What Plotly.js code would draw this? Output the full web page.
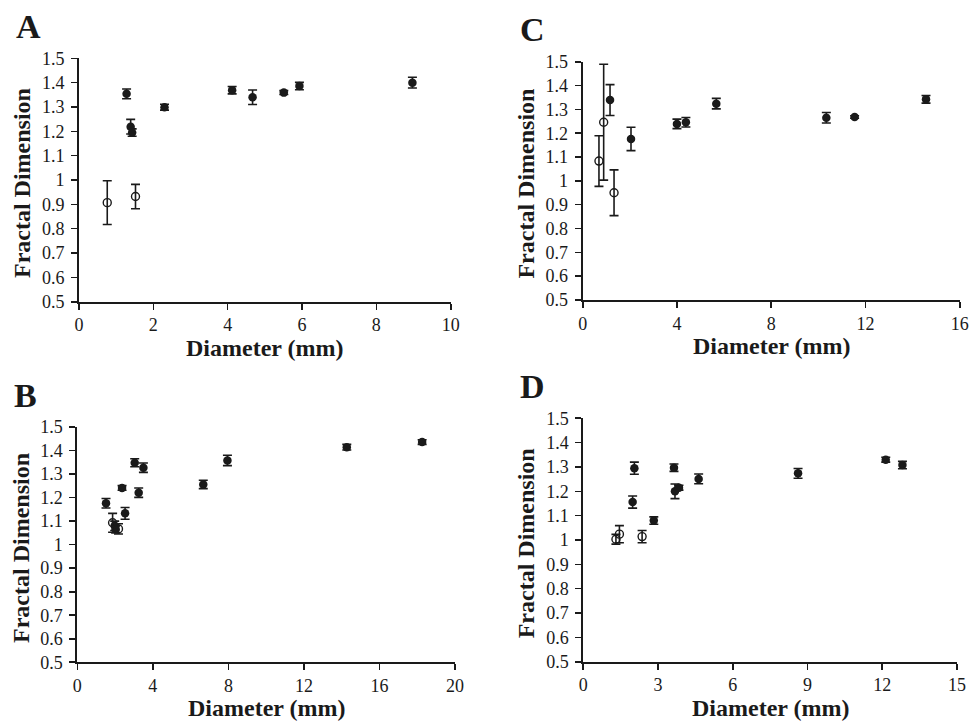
<!DOCTYPE html>
<html>
<head>
<meta charset="utf-8">
<script src="https://cdn.plot.ly/plotly-3.0.1.min.js"></script>
<style>html,body{margin:0;padding:0;background:#fff;}#chart{width:971px;height:722px;}</style>
</head>
<body>
<div id="chart"></div>
<script>
// ---- Data ----
// Panel A
const aFilledX = [1.28, 1.39, 1.43, 2.30, 4.12, 4.67, 5.51, 5.93, 8.97];
const aFilledY = [1.354, 1.219, 1.195, 1.299, 1.369, 1.340, 1.359, 1.386, 1.400];
const aFilledE = [0.02, 0.03, 0.015, 0.012, 0.015, 0.03, 0.008, 0.015, 0.022];
const aOpenX = [0.76, 1.52];
const aOpenY = [0.907, 0.932];
const aOpenE = [0.09, 0.05];
// Panel C
const cFilledX = [1.16, 2.05, 4.00, 4.38, 5.67, 10.34, 11.54, 14.57];
const cFilledY = [1.339, 1.176, 1.239, 1.246, 1.324, 1.265, 1.268, 1.342];
const cFilledE = [0.065, 0.049, 0.02, 0.02, 0.022, 0.022, 0.005, 0.016];
const cOpenX = [0.69, 0.89, 1.33];
const cOpenY = [1.083, 1.246, 0.950];
const cOpenE = [0.106, 0.243, 0.096];
// Panel B
const bFilledX = [1.52, 2.37, 2.53, 3.04, 3.25, 3.50, 6.67, 7.95, 14.27, 18.26, 1.98, 2.03];
const bFilledY = [1.176, 1.241, 1.133, 1.348, 1.221, 1.327, 1.256, 1.358, 1.414, 1.436, 1.080, 1.065];
const bFilledE = [0.02, 0.01, 0.025, 0.017, 0.02, 0.02, 0.018, 0.022, 0.012, 0.01, 0.02, 0.015];
const bOpenX = [1.87, 2.18];
const bOpenY = [1.093, 1.067];
const bOpenE = [0.04, 0.022];
// Panel D
const dFilledX = [2.05, 1.98, 2.83, 3.64, 3.68, 3.84, 4.63, 8.62, 12.14, 12.81];
const dFilledY = [1.295, 1.156, 1.080, 1.297, 1.200, 1.215, 1.251, 1.274, 1.330, 1.308];
const dFilledE = [0.025, 0.025, 0.015, 0.015, 0.03, 0.01, 0.02, 0.02, 0.01, 0.015];
const dOpenX = [1.31, 1.45, 2.36];
const dOpenY = [1.003, 1.024, 1.014];
const dOpenE = [0.02, 0.035, 0.025];

// Tick labels
const yTickVals = [0.5, 0.6, 0.7, 0.8, 0.9, 1.0, 1.1, 1.2, 1.3, 1.4, 1.5];
const yTickText = ["0.5", "0.6", "0.7", "0.8", "0.9", "1", "1.1", "1.2", "1.3", "1.4", "1.5"];
const aXTicks = [0, 2, 4, 6, 8, 10];
const cXTicks = [0, 4, 8, 12, 16];
const bXTicks = [0, 4, 8, 12, 16, 20];
const dXTicks = [0, 3, 6, 9, 12, 15];
const panelLetters = ["A", "C", "B", "D"];
const xTitle = "Diameter (mm)";
const yTitle = "Fractal Dimension";

// ---- Styling / layout ----
const W = 971, H = 722;
const INK = "#1a1a1a";
const FONT = "Liberation Serif, Times New Roman, serif";

function errTrace(xs, ys, es, open, ax) {
  return {
    type: "scatter", mode: "markers", x: xs, y: ys,
    xaxis: ax[0], yaxis: ax[1], showlegend: false, hoverinfo: "x+y",
    error_y: {type: "data", array: es, visible: true, color: INK, thickness: 1.6, width: 4.5},
    marker: open
      ? {symbol: "circle-open", size: 8, color: INK, line: {width: 1.4, color: INK}}
      : {symbol: "circle", size: 8.5, color: INK, line: {width: 0}}
  };
}

// pixel boxes [left, right, top, bottom]
const boxes = {
  A: [79, 450.7, 58.3, 301.7],
  C: [582.7, 959.7, 61.7, 300],
  B: [77.3, 455, 427, 662.3],
  D: [583.3, 957, 418.3, 661.7]
};
const panelAxes = {A: ["x", "y"], C: ["x2", "y2"], B: ["x3", "y3"], D: ["x4", "y4"]};
const panelRanges = {A: 10, C: 16, B: 20, D: 15};
const panelTicks = {A: aXTicks, C: cXTicks, B: bXTicks, D: dXTicks};

const data = [
  errTrace(aFilledX, aFilledY, aFilledE, false, panelAxes.A),
  errTrace(aOpenX, aOpenY, aOpenE, true, panelAxes.A),
  errTrace(cFilledX, cFilledY, cFilledE, false, panelAxes.C),
  errTrace(cOpenX, cOpenY, cOpenE, true, panelAxes.C),
  errTrace(bFilledX, bFilledY, bFilledE, false, panelAxes.B),
  errTrace(bOpenX, bOpenY, bOpenE, true, panelAxes.B),
  errTrace(dFilledX, dFilledY, dFilledE, false, panelAxes.D),
  errTrace(dOpenX, dOpenY, dOpenE, true, panelAxes.D)
];

const layout = {
  width: W, height: H,
  margin: {l: 0, r: 0, t: 0, b: 0},
  paper_bgcolor: "#fff", plot_bgcolor: "rgba(0,0,0,0)",
  font: {family: FONT, color: INK},
  showlegend: false,
  annotations: []
};

const keys = ["A", "C", "B", "D"];
keys.forEach((k, i) => {
  const n = i + 1;
  const [l, r, t, b] = boxes[k];
  const xd = [l / W, r / W];
  const yd = [1 - b / H, 1 - t / H];
  const xs = n === 1 ? "" : String(n);
  const ov = String(n + 4);
  // main axes (outside ticks + labels)
  layout["xaxis" + xs] = {
    domain: xd, anchor: "y" + xs, range: [0, panelRanges[k]],
    tickvals: panelTicks[k], ticks: "outside", ticklen: 6, tickwidth: 1.6, tickcolor: INK,
    showline: true, linecolor: INK, linewidth: 2, showgrid: false, zeroline: false,
    tickfont: {family: FONT, size: 18, color: INK}, fixedrange: true
  };
  layout["yaxis" + xs] = {
    domain: yd, anchor: "x" + xs, range: [0.5, 1.5],
    tickvals: yTickVals, ticktext: yTickText, ticks: "outside", ticklen: 6, tickwidth: 1.6, tickcolor: INK,
    ticklabelstandoff: 3,
    showline: true, linecolor: INK, linewidth: 2, showgrid: false, zeroline: false,
    tickfont: {family: FONT, size: 18, color: INK}, fixedrange: true
  };
  // overlay axes giving the inner half of the crossing ticks
  layout["xaxis" + ov] = {
    overlaying: "x" + xs, anchor: "y" + xs, range: [0, panelRanges[k]],
    tickvals: panelTicks[k], ticks: "inside", ticklen: 6, tickwidth: 1.6, tickcolor: INK,
    showticklabels: false, showline: false, showgrid: false, zeroline: false, fixedrange: true
  };
  layout["yaxis" + ov] = {
    overlaying: "y" + xs, anchor: "x" + xs, range: [0.5, 1.5],
    tickvals: yTickVals, ticks: "inside", ticklen: 6, tickwidth: 1.6, tickcolor: INK,
    showticklabels: false, showline: false, showgrid: false, zeroline: false, fixedrange: true
  };
  // axis titles
  layout.annotations.push({
    xref: "paper", yref: "paper", x: ((l + r) / 2) / W, y: 1 - (b + 46) / H,
    xanchor: "center", yanchor: "middle", showarrow: false,
    text: "<b>" + xTitle + "</b>", font: {family: FONT, size: 24, color: INK}
  });
  layout.annotations.push({
    xref: "paper", yref: "paper", x: (l - 57) / W, y: 1 - ((t + b) / 2 + 3) / H,
    xanchor: "center", yanchor: "middle", showarrow: false, textangle: -90,
    text: "<b>" + yTitle + "</b>", font: {family: FONT, size: 24, color: INK}
  });
  // panel letters
  layout.annotations.push({
    xref: "paper", yref: "paper", x: (l - 65) / W, y: 1 - (t - 32) / H,
    xanchor: "left", yanchor: "middle", showarrow: false,
    text: "<b>" + panelLetters[i] + "</b>", font: {family: FONT, size: 34, color: INK}
  });
});

Plotly.newPlot("chart", data, layout, {displayModeBar: false, staticPlot: true});
</script>
</body>
</html>
